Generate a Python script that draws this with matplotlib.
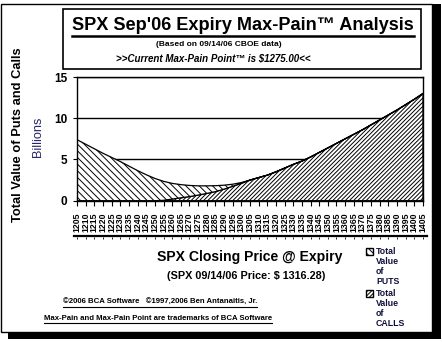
import matplotlib
matplotlib.use("Agg")
import matplotlib.pyplot as plt
from matplotlib.patches import Rectangle
from matplotlib.lines import Line2D

W, H = 442, 342

# strike prices on the category axis
strikes = list(range(1205, 1410, 5))

# total value (billions) of calls and puts if SPX settles at each strike
calls = [0, 0, 0, 0, 0, 0, 0, 0, 0, 0,
         0.05, 0.2, 0.35, 0.5, 0.68, 0.88, 1.1, 1.4, 1.75, 2.1,
         2.5, 2.8, 3.1, 3.5, 3.95, 4.4, 4.8, 5.3, 5.85, 6.4,
         6.95, 7.5, 8.05, 8.6, 9.2, 9.8, 10.4, 11.0, 11.65, 12.3, 13.0]
puts = [7.4, 6.85, 6.3, 5.75, 5.25, 4.75, 4.2, 3.65, 3.15, 2.7,
        2.3, 1.9, 1.6, 1.35, 1.12, 0.92, 0.72, 0.48, 0.25, 0.1,
        0, 0, 0, 0, 0, 0, 0, 0, 0, 0,
        0, 0, 0, 0, 0, 0, 0, 0, 0, 0, 0]

FONT = "Liberation Sans"
plt.rcParams["font.family"] = FONT
plt.rcParams["hatch.linewidth"] = 0.7

PUT_HATCH = "\\" * 5
CALL_HATCH = "/" * 8


def fx(x):
    return x / W


def fy(y):
    return 1 - y / H


fig = plt.figure(figsize=(W / 100, H / 100), dpi=100)
fig.patch.set_facecolor("white")

# outer frame with drop shadow
fig.patches.append(Rectangle((fx(8), fy(339)), fx(433), 335 / H, transform=fig.transFigure,
                             facecolor="black", edgecolor="none", zorder=0))
fig.patches.append(Rectangle((fx(1), fy(332)), fx(431), 328 / H, transform=fig.transFigure,
                             facecolor="white", edgecolor="black", lw=1, zorder=0.5))
# title box
fig.patches.append(Rectangle((fx(63), fy(69)), fx(358), 60 / H, transform=fig.transFigure,
                             facecolor="white", edgecolor="black", lw=1.2, zorder=1))

ax = fig.add_axes([fx(77), fy(200.7), fx(346), 123.7 / H])
ax.set_zorder(3)
x = list(range(len(strikes)))
stack_top = [c + p for c, p in zip(calls, puts)]
ax.fill_between(x, 0, calls, facecolor="white", edgecolor="black", hatch=CALL_HATCH,
                lw=0.9, zorder=2)
ax.fill_between(x, calls, stack_top, facecolor="white", edgecolor="black", hatch=PUT_HATCH,
                lw=0.9, zorder=2)
ax.set_xlim(0, len(strikes) - 1)
ax.set_ylim(0, 15)
ax.set_yticks([0, 5, 10, 15])
ax.yaxis.grid(True, color="black", lw=1)
ax.set_axisbelow(True)
for s in ax.spines.values():
    s.set_linewidth(1)
ax.set_xticks(x)
ax.set_xticklabels([str(s) for s in strikes], rotation=90, fontsize=6.3,
                   fontweight="bold", va="top")
ax.tick_params(axis="x", direction="inout", length=7, width=0.8, pad=5)
ax.tick_params(axis="y", direction="out", length=3, width=0.8, pad=4,
               labelsize=8.5)
for lab in ax.get_yticklabels():
    lab.set_fontweight("bold")

# rule under the strike labels
tr = ax.get_xaxis_transform()
ax.add_line(Line2D([-0.3, 40.5], [-0.283, -0.283], transform=tr, color="black",
                   lw=1.6, clip_on=False))
ax.plot(x, [-0.305] * len(x), transform=tr, ls="none", marker="|", ms=1.8,
        mew=0.6, color="black", clip_on=False)

# titles
title = fig.text(fx(243), fy(30), "SPX Sep'06 Expiry Max-Pain\u2122 Analysis",
                 ha="center", va="baseline", fontsize=13.1, fontweight="bold")
fig.text(fx(219), fy(46.5), "(Based on 09/14/06 CBOE data)", ha="center", va="baseline",
         fontsize=6.0, fontweight="bold")
fig.text(fx(213), fy(61), ">>Current Max-Pain Point\u2122 is $1275.00<<", ha="center",
         va="baseline", fontsize=7.0, fontweight="bold", style="italic")

fig.text(fx(18), fy(135), "Total Value of Puts and Calls", rotation=90, ha="center",
         va="center", fontsize=9.3, fontweight="bold")
fig.text(fx(38), fy(137), "Billions", rotation=90, ha="center", va="center",
         fontsize=9.2, color="#26266a")

fig.text(fx(250), fy(257), "SPX Closing Price @ Expiry", ha="center", va="center",
         fontsize=10.1, fontweight="bold")
fig.text(fx(246), fy(276), "(SPX 09/14/06 Price: $ 1316.28)", ha="center", va="center",
         fontsize=7.8, fontweight="bold")

foot1 = fig.text(fx(160), fy(302), "\u00a92006 BCA Software   \u00a91997,2006 Ben Antanaitis, Jr.",
                 ha="center", va="center", fontsize=5.6, fontweight="bold")
foot2 = fig.text(fx(158), fy(318), "Max-Pain and Max-Pain Point are trademarks of BCA Software",
                 ha="center", va="center", fontsize=5.6, fontweight="bold")

# legend: hatched swatches and stacked words
for y0, hatch, label in [(251, PUT_HATCH, "PUTS"), (293, CALL_HATCH, "CALLS")]:
    fig.patches.append(Rectangle((fx(366), fy(y0 + 3.5)), fx(7), 7 / H,
                                 transform=fig.transFigure, facecolor="white",
                                 edgecolor="black", hatch=hatch, lw=1, zorder=2))
    for i, word in enumerate(["Total", "Value", "of", label]):
        fig.text(fx(376), fy(y0 + i * 10), word, ha="left", va="center",
                 fontsize=6.3, fontweight="bold", color="#10103a")

# underline a few texts
fig.canvas.draw()
rend = fig.canvas.get_renderer()
for t, gap, lw in [(title, 1.5, 1.8), (foot1, 1, 0.8), (foot2, 1, 0.8)]:
    bb = t.get_window_extent(rend).transformed(fig.transFigure.inverted())
    fig.add_artist(Line2D([bb.x0, bb.x1], [bb.y0 - gap / H, bb.y0 - gap / H],
                          transform=fig.transFigure, color="black", lw=lw))

fig.savefig("out.png", dpi=100)
